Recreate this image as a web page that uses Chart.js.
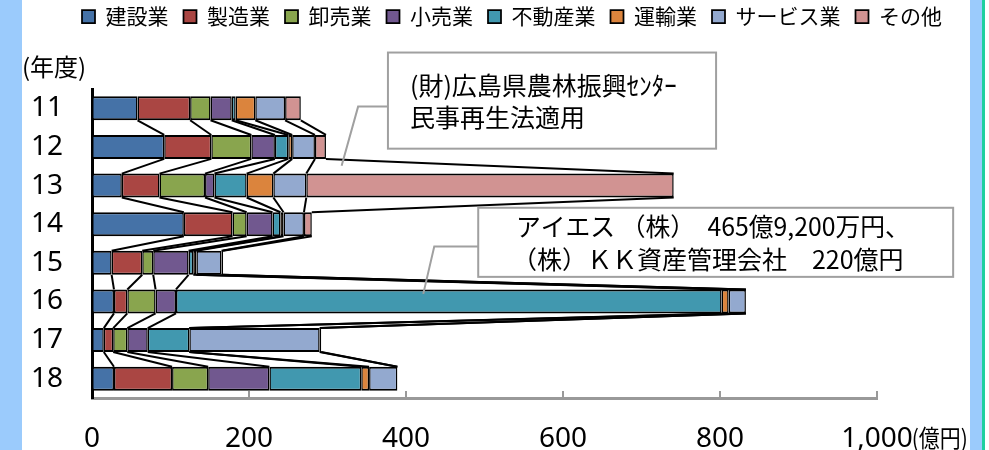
<!DOCTYPE html>
<html><head><meta charset="utf-8">
<script src="https://cdn.jsdelivr.net/npm/chart.js@4"></script>
<style>
html,body{margin:0;padding:0;background:#fff;overflow:hidden;width:989px;height:450px;}
#c{position:absolute;left:0;top:0;}
.s{position:absolute;top:0;height:450px;}
</style></head><body>
<canvas id="c" width="989" height="450"></canvas>
<div class="s" style="left:0;width:22px;background:#9BCBFC"></div>
<div class="s" style="left:970px;width:12px;background:#9BCBFC"></div>
<div class="s" style="left:982px;width:3px;background:#1ECF9F"></div>
<script>
// ---- data ----
const years = ['11','12','13','14','15','16','17','18'];
const seriesNames = ['建設業','製造業','卸売業','小売業','不動産業','運輸業','サービス業','その他'];
const kensetsu = [58, 92, 38, 117, 25, 28, 15, 28];
const seizo    = [67, 60, 48, 62, 39, 17, 12, 74];
const oroshi   = [26, 51, 58, 18, 14, 36, 18, 46];
const kouri    = [27, 30, 12, 33, 45, 26, 26, 78];
const fudosan  = [5, 17, 41, 10, 6, 695, 53, 117];
const unyu     = [25, 5, 34, 4, 4, 9, 0, 10];
const service  = [38, 29, 42, 26, 32, 22, 166, 36];
const sonota   = [20, 14, 468, 10, 2, 0, 2, 0];
const xTicks = [0, 200, 400, 600, 800, 1000];
const colors = ['#4572A7','#AA4643','#89A54E','#71588F','#4198AF','#DB843D','#93A9CF','#D19392'];
const seriesValues = [kensetsu, seizo, oroshi, kouri, fudosan, unyu, service, sonota];

const CJK = "'Noto Sans CJK JP', 'Noto Sans', sans-serif";
const NUM = "'Noto Sans', 'Noto Sans CJK JP', sans-serif";

const seriesLines = {
  id:'seriesLines',
  afterDatasetsDraw(chart){
    const ctx = chart.ctx;
    ctx.save(); ctx.strokeStyle='#000'; ctx.lineWidth=2;
    chart.data.datasets.forEach((ds,d)=>{
      const els = chart.getDatasetMeta(d).data;
      for(let i=0;i<els.length-1;i++){
        const a=els[i], b=els[i+1];
        ctx.beginPath();
        ctx.moveTo(a.x, a.y + a.height/2);
        ctx.lineTo(b.x, b.y - b.height/2);
        ctx.stroke();
      }
    });
    ctx.restore();
  }
};

const notes = [
  {box:[377,795,-1.444,1.045], text:['(財)広島県農林振興ｾﾝﾀｰ','民事再生法適用'], tx:[405,405], ty:[-0.589,0.241], maxw:[272,180],
   leader:[[377,-0.044],[339,-0.044],[318,1.486]]},
  {box:[492,1097,2.575,4.364], text:['アイエス （株）　465億9,200万円、','（株）ＫＫ資産管理会社　220億円'], tx:[540,535], ty:[3.067,3.923], maxw:[394,396],
   leader:[[492,3.578],[436,3.578],[422,4.804]]}
];

const extras = {
  id:'extras',
  beforeInit(chart){
    const lg = chart.legend;
    if(lg){
      const fit = lg.fit;
      lg.fit = function(){ this.maxWidth = 989; fit.call(this); this.height = 89; };
    }
  },
  afterLayout(chart){
    const lg = chart.legend;
    lg.left = 512 - 494.5; lg.right = 512 + 494.5;
    lg.top -= 9; lg.bottom -= 9;
  },
  afterDraw(chart){
    const ctx = chart.ctx, xs = chart.scales.x, ys = chart.scales.y, ca = chart.chartArea;
    ctx.save();
    // inward tick marks
    ctx.strokeStyle = '#999'; ctx.lineWidth = 2;
    xTicks.forEach(v=>{ if(v===0) return; const p = xs.getPixelForValue(v);
      ctx.beginPath(); ctx.moveTo(p, ca.bottom); ctx.lineTo(p, ca.bottom-7); ctx.stroke(); });
    // unit label
    ctx.fillStyle = '#000'; ctx.textBaseline = 'middle';
    ctx.font = '28px ' + NUM;
    const w = ctx.measureText('1,000').width;
    ctx.font = '24px ' + CJK; ctx.textAlign = 'left';
    ctx.fillText('(億円)', xs.getPixelForValue(1000) + w/2 - 1, ca.bottom + 40, 56);
    ctx.fillText('(年度)', 22, 67);
    // annotations
    notes.forEach(n=>{
      const x1 = xs.getPixelForValue(n.box[0]), x2 = xs.getPixelForValue(n.box[1]);
      const y1 = ys.getPixelForValue(n.box[2]), y2 = ys.getPixelForValue(n.box[3]);
      ctx.strokeStyle = '#A0A0A0'; ctx.lineWidth = 2;
      ctx.beginPath();
      n.leader.forEach((pt,i)=>{ const px = xs.getPixelForValue(pt[0]), py = ys.getPixelForValue(pt[1]);
        if(i===0) ctx.moveTo(px,py); else ctx.lineTo(px,py); });
      ctx.stroke();
      ctx.fillStyle = '#fff'; ctx.fillRect(x1,y1,x2-x1,y2-y1);
      ctx.strokeRect(x1,y1,x2-x1,y2-y1);
      ctx.fillStyle = '#000'; ctx.font = '25px ' + CJK; ctx.textAlign='left'; ctx.textBaseline='middle';
      n.text.forEach((t,i)=>{ ctx.fillText(t, xs.getPixelForValue(n.tx[i]), ys.getPixelForValue(n.ty[i]), n.maxw[i]); });
    });
    ctx.restore();
  }
};

new Chart(document.getElementById('c'), {
  type:'bar',
  data:{
    labels: years,
    datasets: seriesNames.map((name,i)=>({
      label: name,
      data: seriesValues[i],
      backgroundColor: colors[i],
      borderColor: '#000',
      borderWidth: {top:2,bottom:2,left:1.5,right:1.5},
      borderSkipped: false,
      barPercentage: 0.62,
      categoryPercentage: 1.0
    }))
  },
  options:{
    indexAxis:'y',
    responsive:false,
    devicePixelRatio:1,
    animation:false,
    layout:{padding:{left:0,right:112,top:0,bottom:0}},
    plugins:{
      legend:{position:'top', labels:{boxWidth:13, boxHeight:13, padding:15, color:'#000', font:{size:21, family:CJK}}},
      tooltip:{enabled:false}
    },
    scales:{
      x:{stacked:true, min:0, max:1000,
         afterFit(s){ s.height = 52; },
         grid:{display:false, drawTicks:false},
         border:{display:true, color:'#999', width:3},
         ticks:{stepSize:200, padding:24, color:'#000', font:{size:28, family:NUM},
                callback:(v)=>Number(v).toLocaleString('en-US')}},
      y:{stacked:true,
         afterFit(s){ s.width = 92; },
         grid:{display:false, drawTicks:false},
         border:{display:true, color:'#000', width:3},
         ticks:{padding:29, color:'#000', font:{size:28, family:NUM}}}
    }
  },
  plugins:[seriesLines, extras]
});
</script>
</body></html>
